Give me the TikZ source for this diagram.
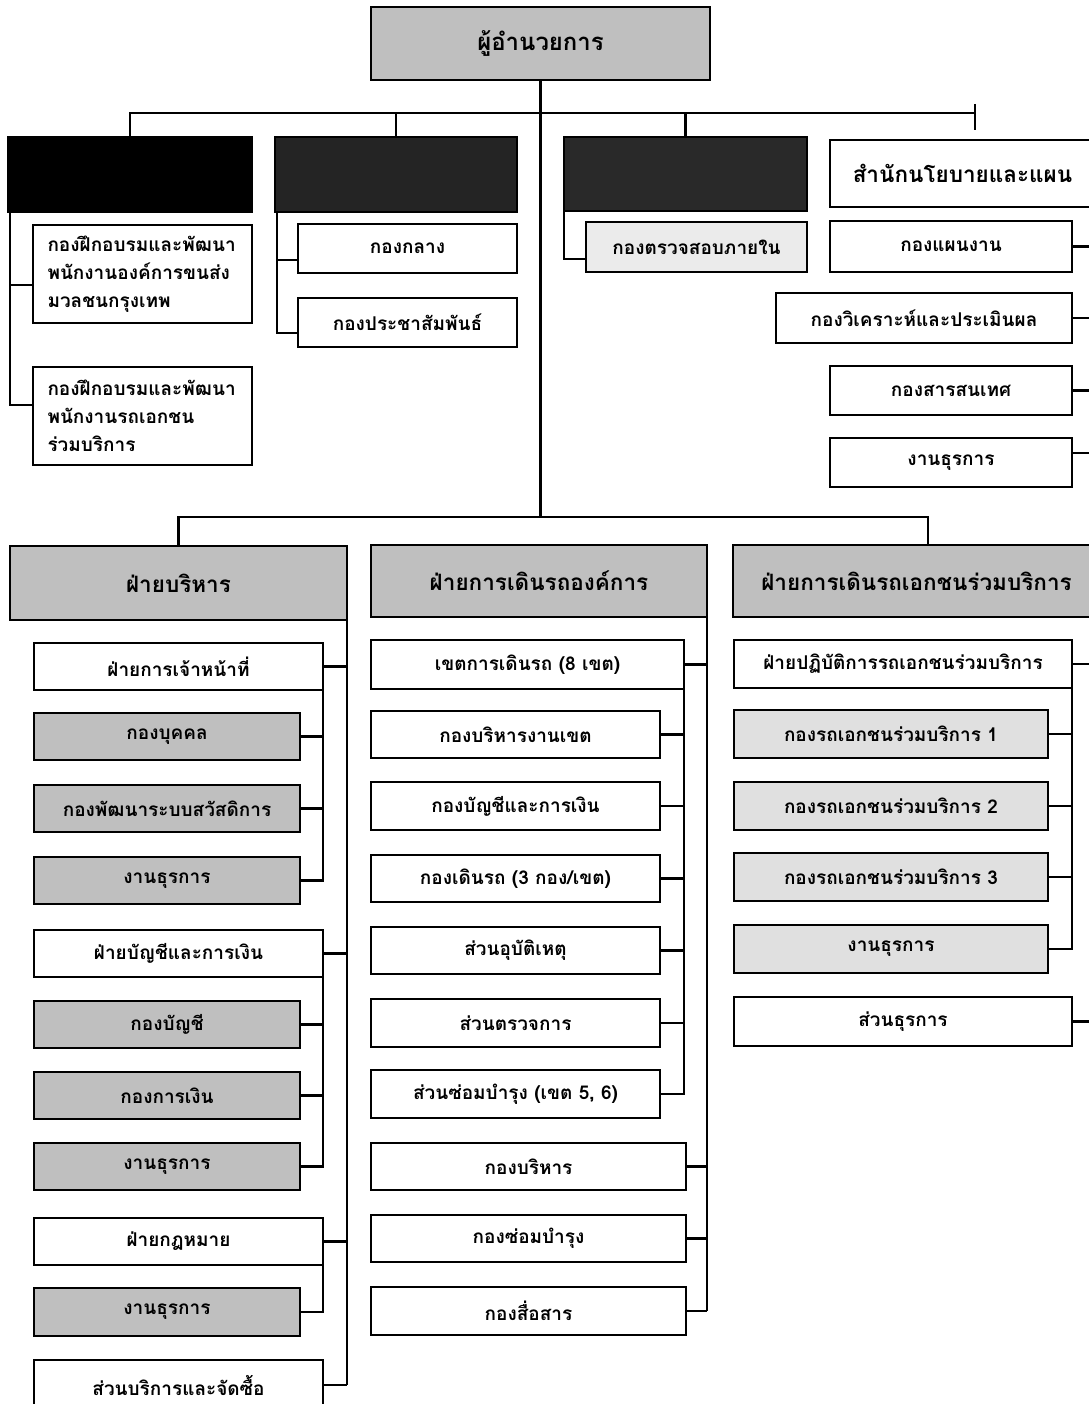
\documentclass[tikz,border=0pt]{standalone}
\usepackage{fontspec}
\newfontfamily\thaifont[Script=Thai]{Loma}
\begin{document}
\begin{tikzpicture}[x=0.025cm, y=-0.025cm,
        box/.style={draw, line width=1.9pt, fill=white, anchor=north west, inner sep=2pt, outer sep=0pt,
            font=\thaifont\bfseries\fontsize{13.5}{20}\selectfont},
        head/.style={box, fill=black!25, font=\thaifont\bfseries\fontsize{16}{19}\selectfont},
        unit/.style={box, fill=black!25},
        light/.style={box, fill=black!12},
        sz/.style 2 args={minimum width=#1*0.025cm, minimum height=#2*0.025cm},
        link/.style={line width=1.6pt}
    ]
        \useasboundingbox (0,0) rectangle (1089,1404);
        \coordinate (rim) at (1100,0);

        % ผู้อำนวยการ
        \node[head, sz={339}{73}, font=\thaifont\bfseries\fontsize{17}{20}\selectfont] (dir) at (371,7) {ผู้อำนวยการ};

        % แถวบน
        \node[box, fill=black, sz={244}{75}] (ofA) at (8,137) {};
        \node[box, fill=black!86, sz={242}{75}] (ofB) at (275,137) {};
        \node[box, fill=black!84, sz={243}{74}] (ofC) at (564,137) {};
        \node[box, sz={265}{67}, font=\thaifont\bfseries\fontsize{16}{19}\selectfont] (ofD) at (830,140) {สำนักนโยบายและแผน};

        \coordinate (bus1) at (975,113);
        \coordinate (tickT) at (975,104);
        \coordinate (tickB) at (975,130);
        \draw[link] (ofA.north) |- (bus1);
        \draw[link] (ofB.north) -- (ofB.north |- bus1);
        \draw[link] (ofC.north) -- (ofC.north |- bus1);
        \draw[link] (tickT) -- (tickB);

        \node[box, sz={219}{98}, text width=190*0.025cm, align=left] (a1) at (33,225)
            {กองฝึกอบรมและพัฒนา\\พนักงานองค์การขนส่ง\\มวลชนกรุงเทพ};
        \node[box, sz={219}{98}, text width=190*0.025cm, align=left] (a2) at (33,367)
            {กองฝึกอบรมและพัฒนา\\พนักงานรถเอกชน\\ร่วมบริการ};
        \draw[link] ([xshift=0.05cm]ofA.south west) |- ([yshift=-0.27cm]a1.west);
        \draw[link] ([xshift=0.05cm]ofA.south west) |- ([yshift=0.27cm]a2.west);

        \node[box, sz={219}{49}] (b1) at (298,224) {กองกลาง};
        \node[box, sz={219}{49}] (b2) at (298,298) {กองประชาสัมพันธ์};
        \draw[link] ([xshift=0.05cm]ofB.south west) |- ([yshift=-0.28cm]b1.west);
        \draw[link] ([xshift=0.05cm]ofB.south west) |- ([yshift=-0.26cm]b2.west);

        \node[box, fill=black!8, sz={221}{50}] (c1) at (586,222) {กองตรวจสอบภายใน};
        \draw[link] (ofC.south west) |- ([yshift=-0.3cm]c1.west);

        \node[box, sz={242}{51}] (d1) at (830,221) {กองแผนงาน};
        \node[box, sz={296}{50}] (d2) at (776,293) {กองวิเคราะห์และประเมินผล};
        \node[box, sz={242}{49}] (d3) at (830,366) {กองสารสนเทศ};
        \node[box, sz={242}{49}] (d4) at (830,438) {งานธุรการ};
        \foreach \n in {d1,d2,d3}
            \draw[link] (\n.east) -- (\n.east -| rim);
        \draw[link] ([yshift=0.24cm]d4.east) -- ([yshift=0.24cm]d4.east -| rim);

        % สามฝ่าย
        \node[head, sz={337}{74}] (h1) at (10,546) {ฝ่ายบริหาร};
        \node[head, sz={336}{72}] (h2) at (371,545) {ฝ่ายการเดินรถองค์การ};
        \node[head, sz={367}{72}] (h3) at (733,545) {ฝ่ายการเดินรถเอกชนร่วมบริการ};

        \coordinate (bus2) at (540,517);
        \draw[link] (dir.south) -- (dir.south |- bus2);
        \draw[link] (h1.north) |- (bus2) -| ([xshift=4.875cm]h3.north west);

        % ฝ่ายบริหาร
        \node[box, sz={289}{47}] (p1) at (34,643) {ฝ่ายการเจ้าหน้าที่};
        \node[unit, sz={266}{47}] (k1) at (34,713) {กองบุคคล};
        \node[unit, sz={266}{47}] (k2) at (34,785) {กองพัฒนาระบบสวัสดิการ};
        \node[unit, sz={266}{47}] (k3) at (34,857) {งานธุรการ};
        \node[box, sz={289}{47}] (p2) at (34,930) {ฝ่ายบัญชีและการเงิน};
        \node[unit, sz={266}{47}] (k4) at (34,1001) {กองบัญชี};
        \node[unit, sz={266}{47}] (k5) at (34,1072) {กองการเงิน};
        \node[unit, sz={266}{47}] (k6) at (34,1143) {งานธุรการ};
        \node[box, sz={289}{47}] (p3) at (34,1218) {ฝ่ายกฎหมาย};
        \node[unit, sz={266}{48}] (k7) at (34,1288) {งานธุรการ};
        \node[box, sz={289}{50}] (p4) at (34,1360) {ส่วนบริการและจัดซื้อ};

        \draw[link] (h1.south east) -- (h1.south east |- p4.east);
        \foreach \n in {p1,p2,p3,p4}
            \draw[link] (\n.east) -- (\n.east -| h1.south east);
        \draw[link] (p1.south east) |- (k3.east);
        \draw[link] (p2.south east) |- (k6.east);
        \draw[link] (p3.south east) |- (k7.east);
        \foreach \n/\m in {k1/p1,k2/p1,k4/p2,k5/p2}
            \draw[link] (\n.east) -- (\n.east -| \m.south east);

        % ฝ่ายการเดินรถองค์การ
        \node[box, sz={313}{49}] (e0) at (371,640) {เขตการเดินรถ (8 เขต)};
        \node[box, sz={289}{47}] (e1) at (371,711) {กองบริหารงานเขต};
        \node[box, sz={289}{48}] (e2) at (371,782) {กองบัญชีและการเงิน};
        \node[box, sz={289}{47}] (e3) at (371,855) {กองเดินรถ (3 กอง/เขต)};
        \node[box, sz={289}{47}] (e4) at (371,927) {ส่วนอุบัติเหตุ};
        \node[box, sz={289}{48}] (e5) at (371,999) {ส่วนตรวจการ};
        \node[box, sz={289}{48}] (e6) at (371,1070) {ส่วนซ่อมบำรุง (เขต 5, 6)};
        \node[box, sz={315}{47}] (g1) at (371,1143) {กองบริหาร};
        \node[box, sz={315}{47}] (g2) at (371,1215) {กองซ่อมบำรุง};
        \node[box, sz={315}{48}] (g3) at (371,1287) {กองสื่อสาร};

        \draw[link] (h2.south east) -- (h2.south east |- g3.east);
        \foreach \n in {e0,g1,g2,g3}
            \draw[link] (\n.east) -- (\n.east -| h2.south east);
        \draw[link] (e0.south east) |- (e6.east);
        \foreach \n in {e1,e2,e3,e4,e5}
            \draw[link] (\n.east) -- (\n.east -| e0.south east);

        % ฝ่ายการเดินรถเอกชนร่วมบริการ
        \node[box, sz={338}{48}] (f0) at (734,640) {ฝ่ายปฏิบัติการรถเอกชนร่วมบริการ};
        \node[light, sz={314}{48}] (m1) at (734,710) {กองรถเอกชนร่วมบริการ 1};
        \node[light, sz={314}{48}] (m2) at (734,782) {กองรถเอกชนร่วมบริการ 2};
        \node[light, sz={314}{48}] (m3) at (734,853) {กองรถเอกชนร่วมบริการ 3};
        \node[light, sz={314}{48}] (m4) at (734,925) {งานธุรการ};
        \node[box, sz={338}{49}] (f1) at (734,997) {ส่วนธุรการ};

        \foreach \n in {f0,f1}
            \draw[link] (\n.east) -- (\n.east -| rim);
        \draw[link] (f0.south east) |- (m4.east);
        \foreach \n in {m1,m2,m3}
            \draw[link] (\n.east) -- (\n.east -| f0.south east);
    \end{tikzpicture}
\end{document}
